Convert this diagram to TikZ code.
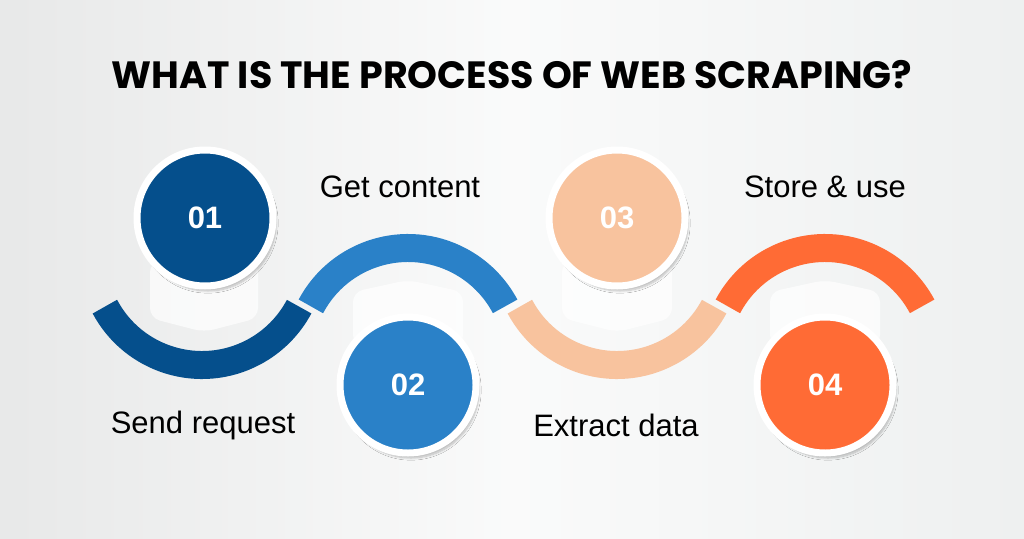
\documentclass[tikz,border=0pt]{standalone}
\usepackage{fontspec}
\setmainfont{Liberation Sans}
\newfontfamily\titlefont{Poppins}
\usetikzlibrary{shadows.blur}
\definecolor{cA}{HTML}{054F8C}
\definecolor{cB}{HTML}{2A81C8}
\definecolor{cC}{HTML}{F8C39E}
\definecolor{cD}{HTML}{FF6B35}
\definecolor{bg}{HTML}{EEF0F0}
\begin{document}
\begin{tikzpicture}[x=1pt,y=-1pt,
  wave/.style={line width=28pt},
  ring/.style={circle,draw=white,line width=7pt,minimum size=136pt,inner sep=0pt,text=white,font=\bfseries\fontsize{31}{31}\selectfont,blur shadow={shadow blur steps=8,shadow xshift=3pt,shadow yshift=-5pt,shadow opacity=25}},
  ped/.style={fill=white,opacity=0.7,rounded corners=10pt},
  lbl/.style={font=\fontsize{31}{31}\selectfont,text=black}]
\useasboundingbox (0,0) rectangle (1024,538);
\shade[left color=bg!80!gray!60, right color=bg, middle color=white!70!bg] (0,0) rectangle (1024,538);
\node (title) at (512,75) {\titlefont\bfseries\fontsize{38}{38}\selectfont WHAT IS THE PROCESS OF WEB SCRAPING?};
% pedestals
\fill[ped] (150,262) -- (258,262) -- (258,318) -- (204,332) -- (150,318) -- cycle;
\fill[ped] (353,345) -- (463,345) -- (463,292) -- (408,280) -- (353,292) -- cycle;
\fill[ped] (562,262) -- (672,262) -- (672,318) -- (617,332) -- (562,318) -- cycle;
\fill[ped] (770,345) -- (880,345) -- (880,292) -- (825,280) -- (770,292) -- cycle;
% waves
\draw[wave,cA] (202,255) ++(152:110) arc[start angle=152,end angle=28,radius=110];
\draw[wave,cB] (408,358) ++(208:110) arc[start angle=208,end angle=332,radius=110];
\draw[wave,cC] (617,255) ++(152:110) arc[start angle=152,end angle=28,radius=110];
\draw[wave,cD] (825,358) ++(208:110) arc[start angle=208,end angle=332,radius=110];
% circles
\node[ring,fill=cA] (n1) at (205,218) {01};
\node[ring,fill=cB] (n2) at (408,385) {02};
\node[ring,fill=cC] (n3) at (617,218) {03};
\node[ring,fill=cD] (n4) at (825,385) {04};
% labels
\node[lbl] (l2) at (400,187) {Get content};
\node[lbl] (l1) at (203,425) {Send request};
\node[lbl] (l4) at (825,187) {Store \& use};
\node[lbl] (l3) at (616,425) {Extract data};
\end{tikzpicture}
\end{document}
